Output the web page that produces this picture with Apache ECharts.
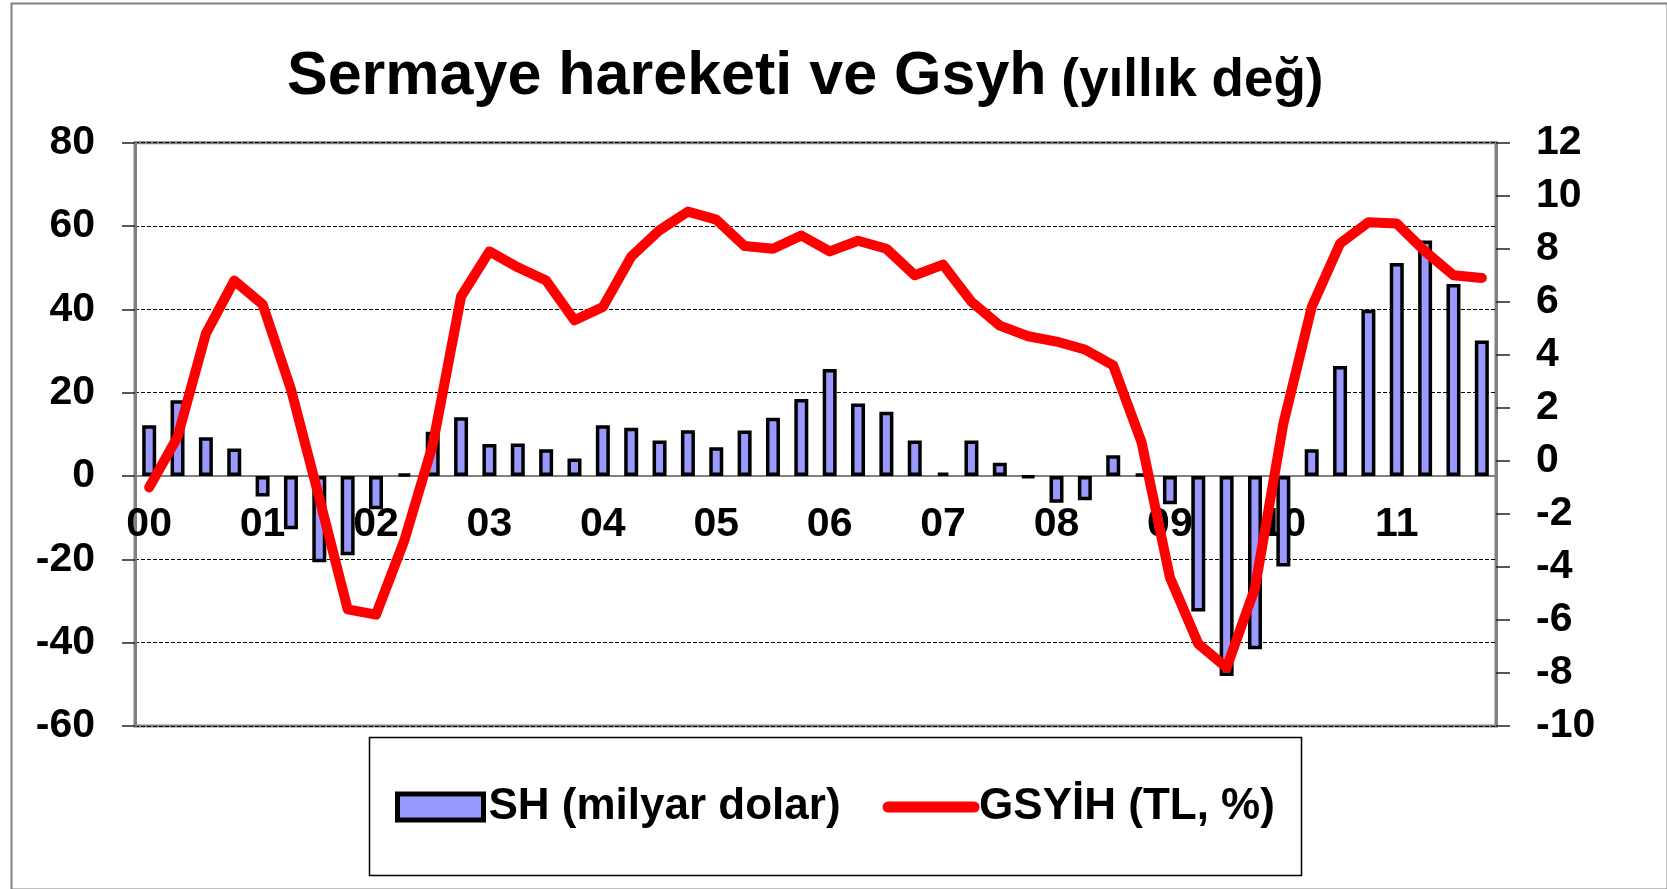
<!DOCTYPE html>
<html>
<head>
<meta charset="utf-8">
<title>Sermaye hareketi ve Gsyh</title>
<script src="https://cdn.jsdelivr.net/npm/echarts@6/dist/echarts.min.js"></script>
<style>
  html, body { margin: 0; padding: 0; background: #fff; }
  #main { width: 1667px; height: 889px; }
</style>
</head>
<body>
<div id="main"></div>
<script>
// years on the x axis (label shown on Q1 of each year)
var years = ['00', '01', '02', '03', '04', '05', '06', '07', '08', '09', '10', '11'];
var quarters = ['Ç1', 'Ç2', 'Ç3', 'Ç4'];

// SH (milyar dolar) - quarterly, annualised
var shValues = [
  12.2, 18.2, 9.3, 6.6,
  -4.9, -12.8, -20.7, -19.0,
  -8.0, 0.5, 10.6, 14.1,
  7.7, 7.8, 6.4, 4.2,
  12.2, 11.6, 8.5, 11.0,
  6.9, 10.9, 14.0, 18.5,
  25.7, 17.4, 15.4, 8.5,
  0.8, 8.5, 3.2, -0.3,
  -6.4, -5.8, 5.0, 0.5,
  -6.8, -32.5, -48.0, -41.6,
  -21.7, 6.4, 26.4, 39.9,
  51.1, 56.5, 46.1, 32.5
];

// GSYİH (TL, %) - right axis
var gdpValues = [
  -1.0, 0.9, 4.8, 6.8,
  5.9, 2.7, -1.4, -5.6,
  -5.8, -3.0, 0.6, 6.2,
  7.9, 7.3, 6.8, 5.3,
  5.8, 7.7, 8.7, 9.4,
  9.1, 8.1, 8.0, 8.5,
  7.9, 8.3, 8.0, 7.0,
  7.4, 6.0, 5.1, 4.7,
  4.5, 4.2, 3.6, 0.7,
  -4.4, -6.9, -7.8, -4.8,
  1.4, 5.8, 8.2, 9.0,
  8.95, 7.9, 7.0, 6.9
];

var categories = [];
years.forEach(function (y) {
  quarters.forEach(function (q) {
    categories.push(y + ' ' + q);
  });
});

var fontName = '"Liberation Sans", Arial, sans-serif';

// left axis range
var leftMin = -60, leftMax = 80;

// grid box
var gridTop = 142.7, gridBottom = 163, chartH = 889;
var gridH = chartH - gridTop - gridBottom;
// move the category axis up to the zero of the left axis
var zeroOffset = -(0 - leftMin) / (leftMax - leftMin) * gridH;

var chart = echarts.init(document.getElementById('main'));

var option = {
  backgroundColor: '#fff',
  animation: false,
  textStyle: { fontFamily: fontName },
  title: {
    text: '{a|Sermaye hareketi ve Gsyh}{b| (yıllık değ)}',
    left: 287,
    top: 47,
    padding: 0,
    textStyle: {
      rich: {
        a: { fontSize: 61, fontWeight: 'bold', color: '#000', fontFamily: fontName, lineHeight: 61, verticalAlign: 'bottom' },
        b: { fontSize: 53, fontWeight: 'bold', color: '#000', fontFamily: fontName, lineHeight: 53, verticalAlign: 'bottom' }
      }
    }
  },
  legend: {
    left: 390,
    top: 780,
    itemWidth: 86,
    itemHeight: 26,
    itemGap: 42,
    textStyle: { fontSize: 44, fontWeight: 'bold', color: '#000', fontFamily: fontName },
    data: [
      { name: 'SH (milyar dolar)', icon: 'rect', itemStyle: { color: '#9999FF', borderColor: '#000', borderWidth: 5 } },
      { name: 'GSYİH (TL, %)', itemStyle: { opacity: 0 }, lineStyle: { width: 11, color: '#FF0000', cap: 'round' } }
    ]
  },
  graphic: [
    // outer chart frame
    { type: 'rect', left: 9, top: 1, shape: { width: 1656, height: 886 }, style: { fill: null, stroke: '#808080', lineWidth: 2 }, silent: true },
    // legend box
    { type: 'rect', left: 367, top: 735, shape: { width: 932, height: 138 }, style: { fill: null, stroke: '#000', lineWidth: 1.5 }, silent: true }
  ],
  grid: {
    left: 135,
    right: 171,
    top: gridTop,
    bottom: gridBottom,
    show: true,
    backgroundColor: '#fff',
    borderColor: '#808080',
    borderWidth: 3
  },
  xAxis: {
    type: 'category',
    data: categories,
    position: 'bottom',
    offset: zeroOffset,
    axisLine: { onZero: false, lineStyle: { color: '#808080', width: 2 } },
    axisTick: { interval: 0, length: 14, lineStyle: { color: '#444', width: 1.5 } },
    axisLabel: {
      interval: 3,
      margin: 28,
      fontSize: 41,
      fontWeight: 'bold',
      color: '#000',
      formatter: function (v) { return v.split(' ')[0]; }
    },
    splitLine: { show: false }
  },
  yAxis: [
    {
      type: 'value',
      min: leftMin,
      max: leftMax,
      interval: 20,
      axisLine: { show: true, lineStyle: { color: '#808080', width: 3 } },
      axisTick: { show: true, length: 13, lineStyle: { color: '#222', width: 1.5 } },
      axisLabel: { margin: 40, fontSize: 41, fontWeight: 'bold', color: '#000' },
      splitLine: { show: true, lineStyle: { color: '#000', width: 1, type: [4, 2] } }
    },
    {
      type: 'value',
      min: -10,
      max: 12,
      interval: 2,
      axisLine: { show: true, lineStyle: { color: '#808080', width: 3 } },
      axisTick: { show: true, length: 14, lineStyle: { color: '#222', width: 1.5 } },
      axisLabel: { margin: 40, fontSize: 41, fontWeight: 'bold', color: '#000' },
      splitLine: { show: false }
    }
  ],
  series: [
    {
      name: 'SH (milyar dolar)',
      type: 'bar',
      yAxisIndex: 0,
      data: shValues,
      barWidth: 14,
      itemStyle: { color: '#9999FF', borderColor: '#000', borderWidth: 3.5 },
      z: 2
    },
    {
      name: 'GSYİH (TL, %)',
      type: 'line',
      yAxisIndex: 1,
      data: gdpValues,
      symbol: 'none',
      lineStyle: { color: '#FF0000', width: 10, cap: 'round', join: 'round' },
      itemStyle: { color: '#FF0000' },
      z: 3
    }
  ]
};

chart.setOption(option);
</script>
</body>
</html>
